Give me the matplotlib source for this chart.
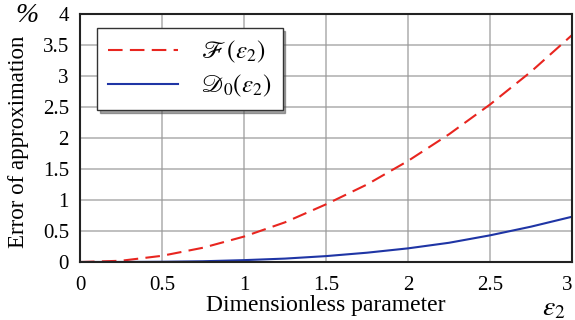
import matplotlib
matplotlib.use('Agg')
import matplotlib.pyplot as plt

eps = [0, 0.25, 0.5, 0.75, 1.0, 1.25, 1.5, 1.75, 2.0, 2.25, 2.5, 2.75, 3.0]
err_F = [0, 0.02, 0.10, 0.23, 0.41, 0.64, 0.93, 1.25, 1.63, 2.06, 2.54, 3.07, 3.66]
err_D0 = [0, 0.0005, 0.004, 0.012, 0.03, 0.055, 0.095, 0.15, 0.22, 0.31, 0.43, 0.57, 0.73]
xticks = [0, 0.5, 1, 1.5, 2, 2.5, 3]
yticks = [0, 0.5, 1, 1.5, 2, 2.5, 3, 3.5, 4]

plt.rcParams['font.family'] = 'Liberation Serif'
plt.rcParams['mathtext.fontset'] = 'stix'

fig = plt.figure(figsize=(5.75, 3.2), dpi=100)
ax = fig.add_axes([80/575, 1 - 262/320, 492/575, 248/320])

ax.plot(eps, err_F, color='#e8251f', lw=1.5, dashes=(7, 3.5),
        label=r'$\mathscr{F}\,(\varepsilon_2)$')
ax.plot(eps, err_D0, color='#1f35a5', lw=1.5,
        label=r'$\mathscr{D}_0(\varepsilon_2)$')

ax.set_xlim(0, 3)
ax.set_ylim(0, 4)
ax.set_xticks(xticks)
ax.set_yticks(yticks)
ax.set_xticklabels([f'{t:g}' for t in xticks])
ax.set_yticklabels([f'{t:g}' for t in yticks])
ax.get_xticklabels()[-1].set_ha('right')
ax.tick_params(axis='x', length=0, labelsize=15, pad=10)
ax.tick_params(axis='y', length=0, labelsize=15, pad=8)
ax.grid(True, color='#9a9a9a', lw=1.1, alpha=0.8)
ax.set_axisbelow(True)
for s in ax.spines.values():
    s.set_linewidth(1.5)
    s.set_color('#222222')

ax.set_xlabel('Dimensionless parameter', fontsize=17, labelpad=0)
ax.set_ylabel('Error of approximation', fontsize=16.5)
ax.yaxis.set_label_coords((29 - 80) / 492, (262 - 142) / 248)
fig.text(27/575, 1 - 15/320, '%', fontsize=20, style='italic',
         ha='center', va='center')
fig.text(554/575, 1 - 309/320, r'$\varepsilon_2$', fontsize=20,
         ha='center', va='center')

leg = ax.legend(loc='upper left', bbox_to_anchor=(0.035, 0.944),
                borderaxespad=0, fancybox=False, shadow=True,
                edgecolor='#333333', framealpha=1, fontsize=18,
                handlelength=2.8, handletextpad=0.9,
                borderpad=0.45, labelspacing=0.3)
leg.get_frame().set_linewidth(1.0)

fig.savefig('out.png', dpi=100)
